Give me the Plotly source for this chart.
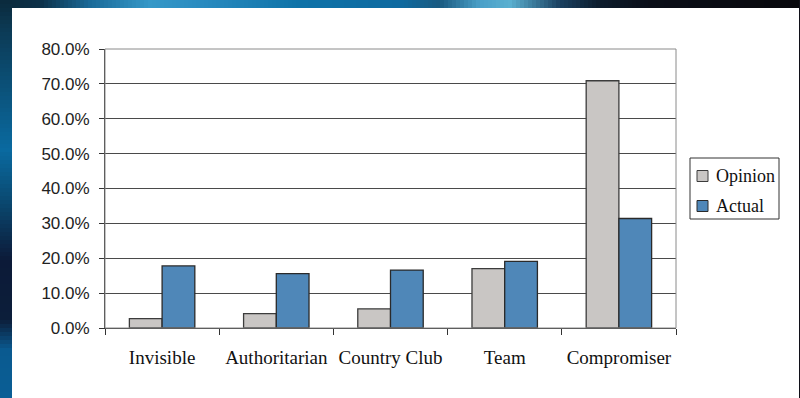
import plotly.graph_objects as go

categories = ["Invisible", "Authoritarian", "Country Club", "Team", "Compromiser"]
opinion = [2.7, 4.1, 5.5, 17.0, 70.9]
actual = [17.8, 15.6, 16.6, 19.1, 31.4]
series_names = ["Opinion", "Actual"]
y_ticks = [0, 10, 20, 30, 40, 50, 60, 70, 80]
y_tick_labels = ["0.0%", "10.0%", "20.0%", "30.0%", "40.0%", "50.0%", "60.0%", "70.0%", "80.0%"]

colors = ["#c9c6c4", "#4f87b8"]
edge_colors = ["#3c3c3c", "#2a2a2a"]

W, H = 800, 398
L, R, T, B = 105, 676, 49, 328  # plot area in pixels


def px_x(p):
    return (p - L) / (R - L)


def px_y(p):
    return (B - p) / (B - T)


def hex2rgb(h):
    h = h.lstrip("#")
    return tuple(int(h[i:i + 2], 16) for i in (0, 2, 4))


def interp(stops, v):
    for (a, ca), (b, cb) in zip(stops, stops[1:]):
        if a <= v <= b:
            t = (v - a) / (b - a) if b > a else 0
            c1, c2 = hex2rgb(ca), hex2rgb(cb)
            c = [round(c1[i] + (c2[i] - c1[i]) * t) for i in range(3)]
            return "rgb(%d,%d,%d)" % tuple(c)
    return stops[-1][1]


top_stops = [(0, "#0b2a3c"), (40, "#0c3048"), (90, "#1a6a98"), (150, "#3598c8"),
             (200, "#2a8cc0"), (300, "#0e72a8"), (400, "#0e6aa0"), (440, "#1a5a80"),
             (480, "#4aa0c8"), (510, "#5ab0d0"), (560, "#1a4060"), (600, "#0c1c2c"),
             (650, "#0a0e18"), (800, "#08080c")]
left_stops = [(0, "#0b2a3c"), (30, "#0c3a55"), (150, "#0a6aa0"), (200, "#0a4a72"),
              (260, "#0c1a38"), (320, "#0c1e3a"), (350, "#0a5a90"), (398, "#0a5e95")]

shapes = []
step = 4
for x0 in range(0, W, step):
    shapes.append(dict(type="rect", xref="paper", yref="paper", layer="below",
                       x0=px_x(x0), x1=px_x(x0 + step + 1), y0=px_y(8), y1=px_y(0),
                       fillcolor=interp(top_stops, x0 + step / 2), line=dict(width=0)))
for y0 in range(0, H, step):
    shapes.append(dict(type="rect", xref="paper", yref="paper", layer="below",
                       x0=px_x(0), x1=px_x(12), y0=px_y(y0 + step + 1), y1=px_y(y0),
                       fillcolor=interp(left_stops, y0 + step / 2), line=dict(width=0)))
shapes.append(dict(type="rect", xref="paper", yref="paper", layer="below",
                   x0=px_x(799), x1=px_x(800), y0=px_y(398), y1=px_y(0),
                   fillcolor="#101018", line=dict(width=0)))
# plot border (top/right grey)
shapes.append(dict(type="rect", xref="paper", yref="paper", layer="above",
                   x0=0, x1=1, y0=0, y1=1, line=dict(color="#8a8a8a", width=1)))

# legend box drawn by hand to match the original's compact layout
annotations = []
shapes.append(dict(type="rect", xref="paper", yref="paper", layer="above",
                   x0=px_x(690), x1=px_x(779), y0=px_y(219), y1=px_y(158),
                   fillcolor="white", line=dict(color="#333333", width=1)))
for i, name in enumerate(series_names):
    cy = 176 + 30 * i
    shapes.append(dict(type="rect", xref="paper", yref="paper", layer="above",
                       x0=px_x(697), x1=px_x(708), y0=px_y(cy + 5.5), y1=px_y(cy - 5.5),
                       fillcolor=colors[i], line=dict(color=edge_colors[i], width=1)))
    annotations.append(dict(xref="paper", yref="paper", x=px_x(714), y=px_y(cy),
                            xanchor="left", yanchor="middle", showarrow=False, text=name,
                            font=dict(family="Liberation Serif", size=18, color="#111111")))

fig = go.Figure()
for name, vals, c, ec in zip(series_names, [opinion, actual], colors, edge_colors):
    fig.add_trace(go.Bar(name=name, x=categories, y=vals,
                         marker=dict(color=c, line=dict(color=ec, width=1.3))))

fig.update_layout(
    width=W, height=H,
    margin=dict(l=L, r=W - R, t=T, b=H - B, autoexpand=False),
    paper_bgcolor="white", plot_bgcolor="white",
    barmode="group", bargap=0.427, bargroupgap=0,
    showlegend=False,
    shapes=shapes,
    annotations=annotations,
    xaxis=dict(type="category", showgrid=False, showline=True, linecolor="#333333",
               linewidth=1, ticks="outside", tickson="boundaries", ticklen=6,
               tickcolor="#333333", ticklabelstandoff=12,
               tickfont=dict(family="Liberation Serif", size=19, color="#111111"),
               range=[-0.5, 4.5], fixedrange=True),
    yaxis=dict(range=[0, 80], tickvals=y_ticks, ticktext=y_tick_labels,
               showgrid=True, gridcolor="#4a4a4a", gridwidth=1,
               showline=True, linecolor="#333333", linewidth=1,
               ticks="outside", ticklen=5, tickcolor="#333333", ticklabelstandoff=6,
               zeroline=False,
               tickfont=dict(family="Liberation Sans", size=17, color="#222222")),
)

fig.write_html("out.html")
